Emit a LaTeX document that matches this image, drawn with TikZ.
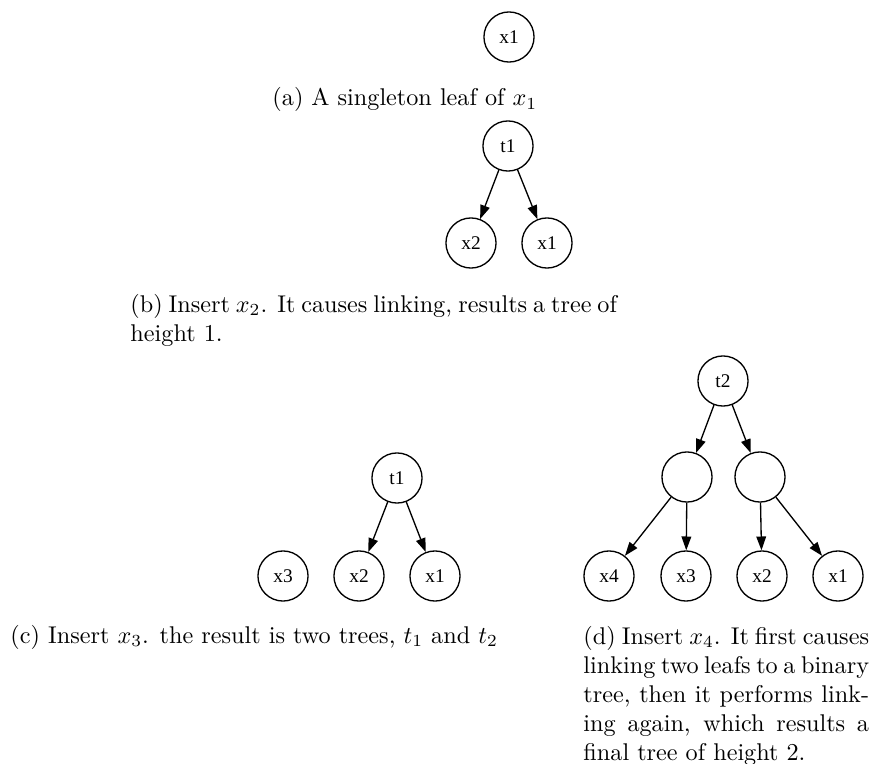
\documentclass[tikz,border=0pt]{standalone}
\usepackage{fontspec}
\newfontfamily\gvfont{Liberation Serif}
\usetikzlibrary{arrows.meta}
\tikzset{
  leaf/.style={draw,circle,line width=0.55pt,minimum size=20.7pt,inner sep=0pt,
    font=\gvfont\fontsize{8}{9}\selectfont},
  edge/.style={line width=0.55pt,-{Triangle[length=5.7pt,width=4pt]}},
  caption/.style={anchor=base west,inner sep=0pt}
}
\begin{document}
\begin{tikzpicture}[x=0.4132pt,y=-0.4132pt]
    \useasboundingbox (0,0) rectangle (872,764);
    % (a) one leaf
    \node[leaf] (xa1) at (509,37) {x1};
    \node[caption] (capa) at (272,106) {(a) A singleton leaf of $x_1$};
    % (b) two leaves linked
    \node[leaf] (tb1) at (508,146) {t1};
    \node[leaf] (xb2) at (471,243) {x2};
    \node[leaf] (xb1) at (547,243) {x1};
    \node[caption,text width=201pt,align=justify] (capb) at (130,312)
        {\hbadness=10000\hfuzz=20pt (b) Insert $x_2$.  It causes linking, results a tree of\linebreak height 1.};
    % (c) a tree and a leaf
    \node[leaf] (tc1) at (397,478) {t1};
    \foreach \n/\x in {3/283,2/359,1/435}
        \node[leaf] (xc\n) at (\x,576) {x\n};
    \node[caption] (capc) at (10,643)
        {(c) Insert $x_3$. the result is two trees, $t_1$ and $t_2$};
    % (d) tree of height 2
    \node[leaf] (td2) at (723,381) {t2};
    \node[leaf] (ml) at (687,477) {};
    \node[leaf] (mr) at (760,477) {};
    \foreach \n/\x in {4/609,3/686,2/762,1/838}
        \node[leaf] (xd\n) at (\x,576) {x\n};
    \node[caption,text width=118pt,align=justify] (capd) at (583,644)
        {(d) Insert $x_4$. It first causes\linebreak linking two leafs to a binary\linebreak
         tree, then it performs link-\linebreak ing again, which results a\linebreak
         final tree of height 2.};
    \foreach \a/\b in {tb1/xb2,tb1/xb1,tc1/xc2,tc1/xc1,td2/ml,td2/mr,ml/xd4,ml/xd3,mr/xd2,mr/xd1}
        \draw[edge] (\a) -- (\b);
\end{tikzpicture}
\end{document}
